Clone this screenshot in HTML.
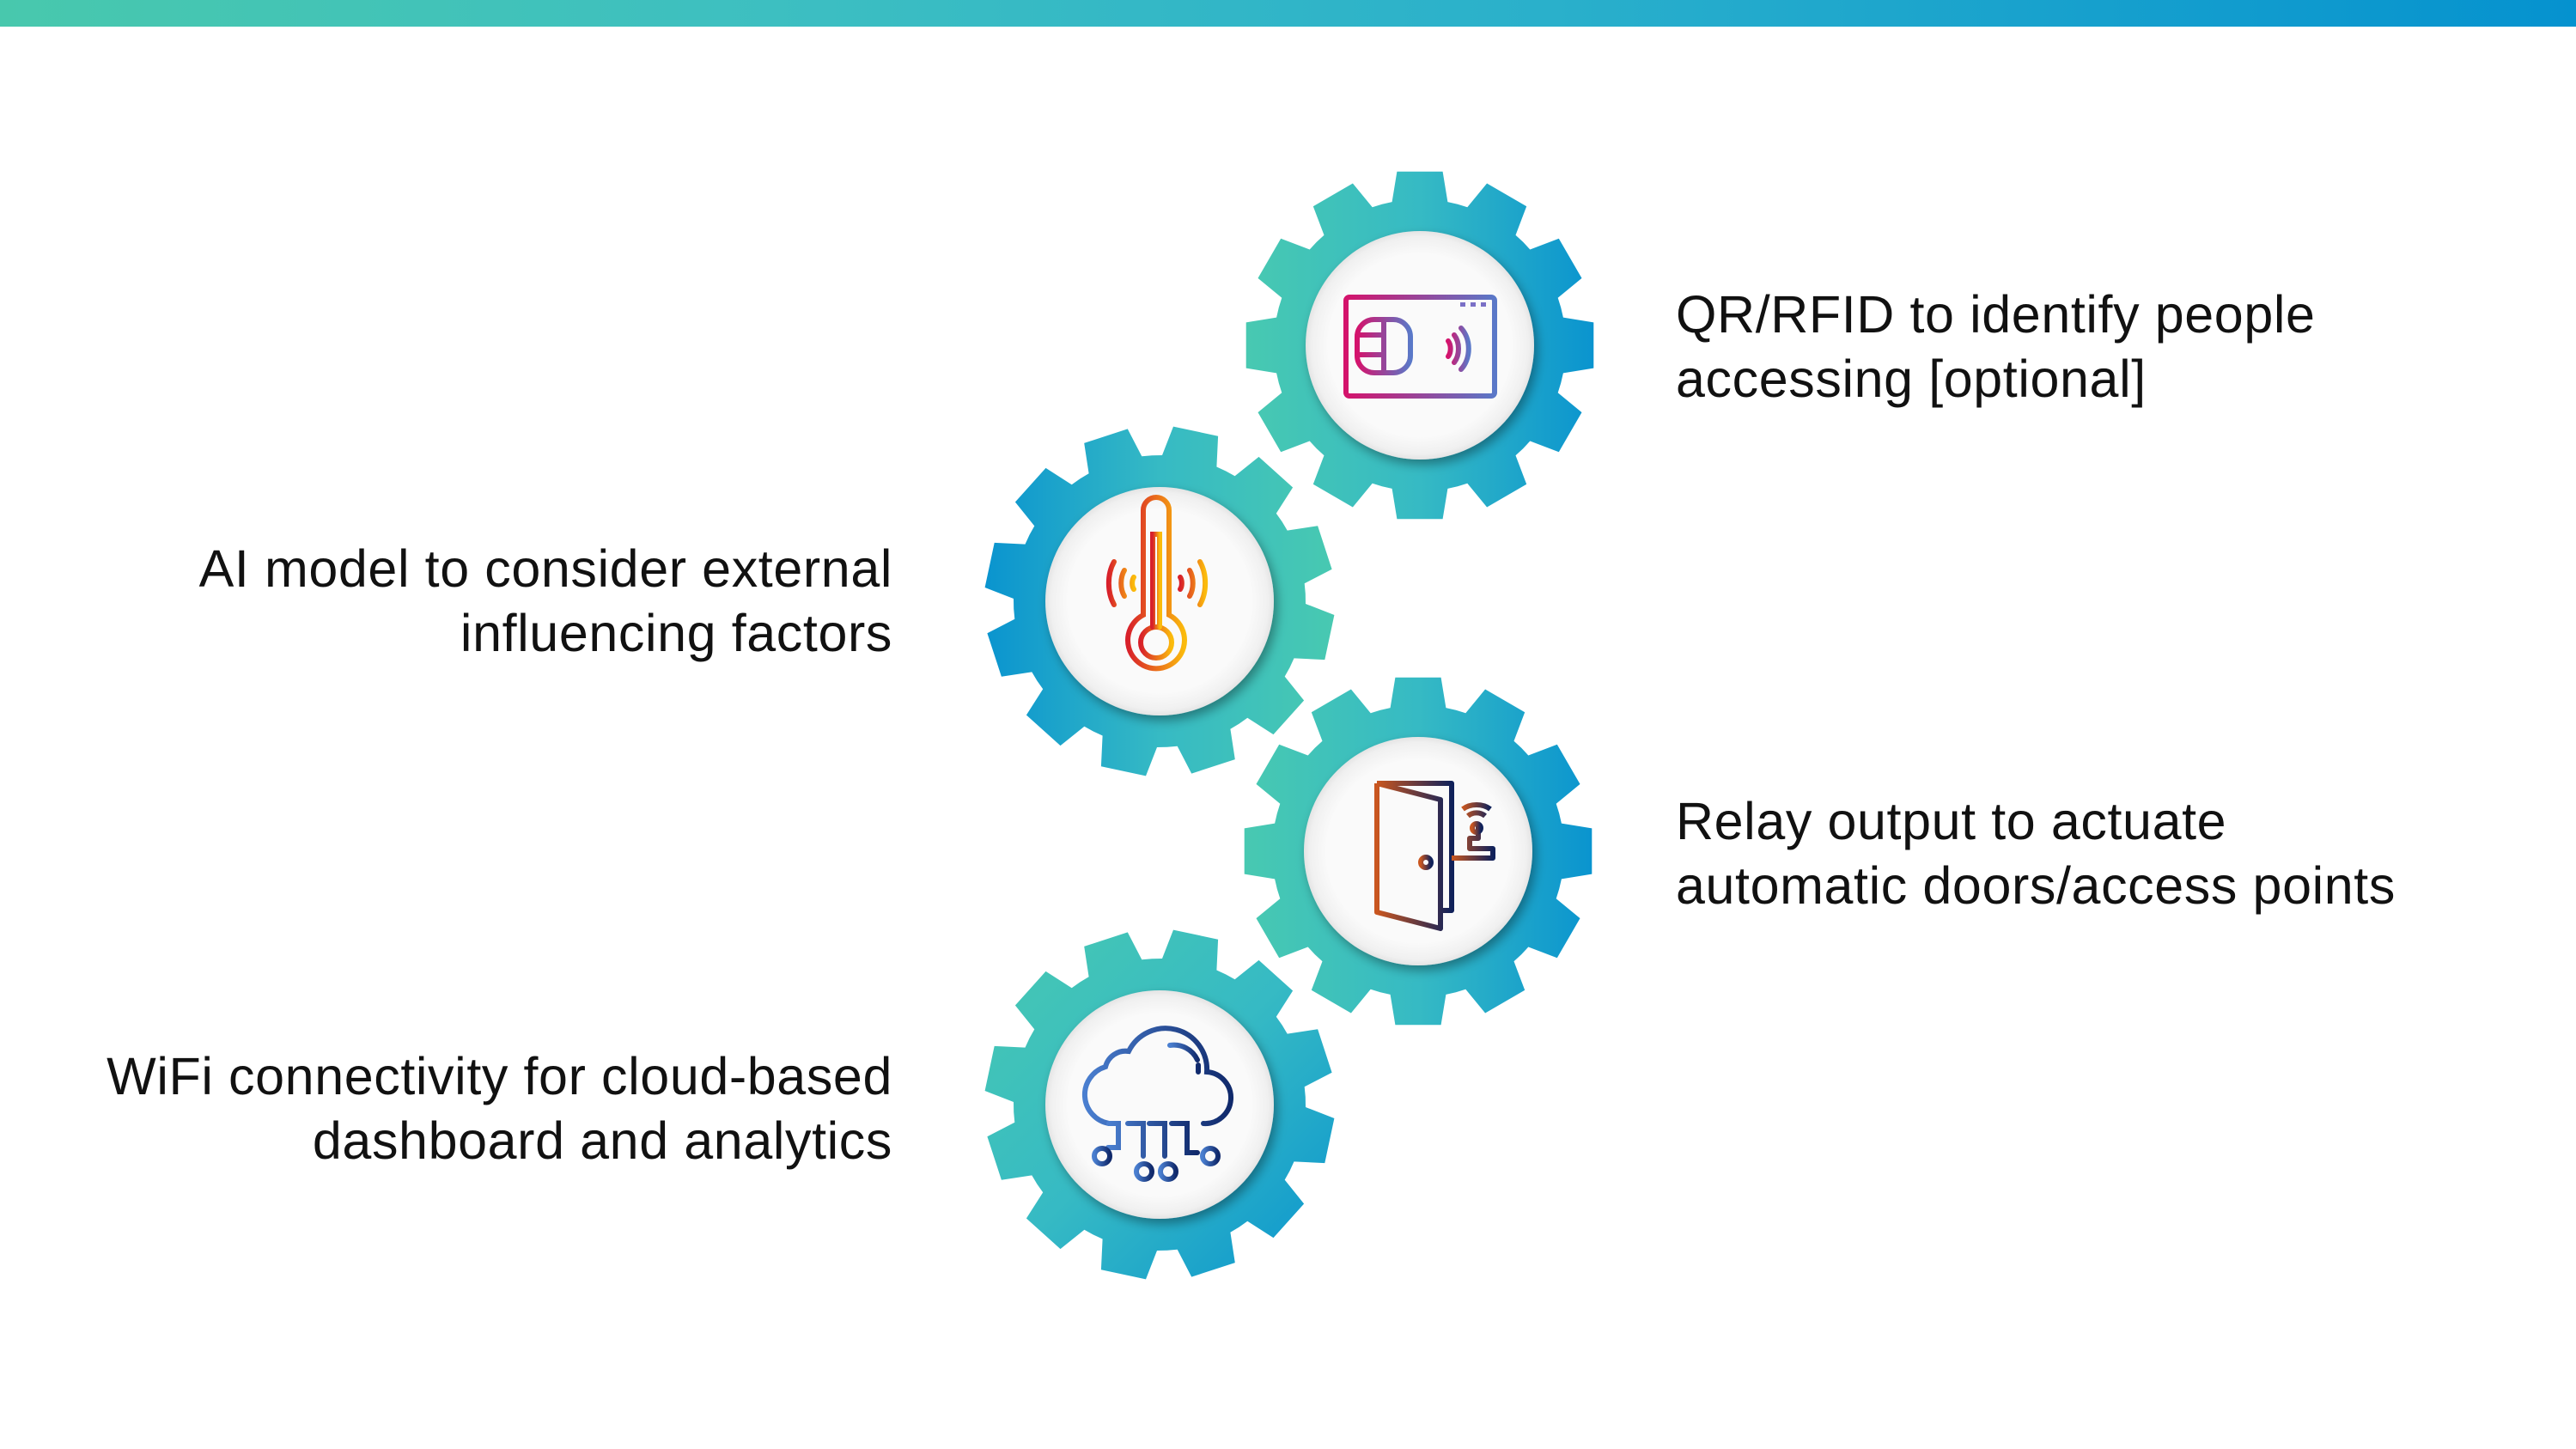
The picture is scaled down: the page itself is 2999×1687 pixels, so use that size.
<!DOCTYPE html>
<html><head><meta charset="utf-8"><style>
html,body{margin:0;padding:0;background:#fff}
body{width:2999px;height:1687px;position:relative;overflow:hidden;font-family:"Liberation Sans",sans-serif;color:#111}
.bar{position:absolute;left:0;top:0;width:2999px;height:31px;background:linear-gradient(90deg,#48c8ad,#3dbfc1 30%,#2ab0cb 60%,#0592cf)}
.t{position:absolute;font-size:61px;letter-spacing:0.6px;line-height:75px;white-space:nowrap}
.r{text-align:right}
svg{position:absolute;left:0;top:0}
</style></head><body>
<div class="bar"></div>
<svg id="s" width="2999" height="1687" viewBox="0 0 2999 1687">
<defs>
<linearGradient id="gh" x1="0" y1="0" x2="1" y2="0"><stop offset="0" stop-color="#48c9b1"/><stop offset="0.5" stop-color="#36bac4"/><stop offset="1" stop-color="#0a94cf"/></linearGradient>
<linearGradient id="ghr" x1="1" y1="0" x2="0" y2="0"><stop offset="0" stop-color="#48c9b1"/><stop offset="0.5" stop-color="#36bac4"/><stop offset="1" stop-color="#0a94cf"/></linearGradient>
<linearGradient id="gd" x1="0" y1="0" x2="1" y2="1"><stop offset="0" stop-color="#48c9b1"/><stop offset="0.5" stop-color="#36bac4"/><stop offset="1" stop-color="#0a94cf"/></linearGradient>
<radialGradient id="wc" cx="0.5" cy="0.5" r="0.5"><stop offset="0.8" stop-color="#fafafa"/><stop offset="0.95" stop-color="#f0f0f0"/><stop offset="1" stop-color="#e4e4e4"/></radialGradient>
<filter id="sh" x="-20%" y="-20%" width="140%" height="140%"><feDropShadow dx="4" dy="6" stdDeviation="6" flood-color="#000" flood-opacity="0.35"/></filter>
<linearGradient id="ic1" x1="0" y1="0" x2="1" y2="0"><stop offset="0" stop-color="#d4136c"/><stop offset="1" stop-color="#5a78c8"/></linearGradient>
<linearGradient id="ic2" x1="0" y1="0" x2="1" y2="0"><stop offset="0" stop-color="#d8202a"/><stop offset="1" stop-color="#fbbb0c"/></linearGradient>
<linearGradient id="ic3" x1="0" y1="0" x2="1" y2="0"><stop offset="0" stop-color="#c9561f"/><stop offset="1" stop-color="#10215a"/></linearGradient>
<linearGradient id="ic4" x1="0" y1="0" x2="1" y2="0"><stop offset="0" stop-color="#4a7fd0"/><stop offset="1" stop-color="#10296b"/></linearGradient>
</defs>
<g id="gears"></g>
<g fill="none" stroke="url(#ic1)" stroke-width="6" stroke-linecap="round">
<rect x="1567" y="346" width="173" height="115" rx="4"/>
<path d="M1600 372 h22 a20 20 0 0 1 20 20 v22 a20 20 0 0 1 -20 20 h-22 a20 20 0 0 1 -20 -20 v-22 a20 20 0 0 1 20 -20z M1611 372 v62 M1580 390 h31 M1580 413 h31"/>
<path d="M1686 397 a8 12 0 0 1 0 18 M1693 390 a16 22 0 0 1 0 32 M1701 382 a26 32 0 0 1 0 48"/>
</g>
<g fill="#7a70c6"><rect x="1700" y="352" width="6" height="5"/><rect x="1712" y="352" width="6" height="5"/><rect x="1724" y="352" width="6" height="5"/></g>
<g fill="none" stroke="url(#ic2)" stroke-width="6" stroke-linecap="round">
<path d="M1331 716 v-122 a15 15 0 0 1 30 0 v122 a33 33 0 1 1 -30 0z"/>
<circle cx="1346" cy="748" r="18"/>
<path d="M1342 730 v-108 h8 v108"/>
<path d="M1297 654 a28 40 0 0 0 0 50 M1309 664 a14 22 0 0 0 0 30 M1320 672 a5 9 0 0 0 0 14"/>
<path d="M1374 672 a5 9 0 0 1 0 14 M1385 664 a14 22 0 0 1 0 30 M1397 654 a28 40 0 0 1 0 50"/>
</g>
<g fill="none" stroke="url(#ic3)" stroke-width="6" stroke-linejoin="round">
<path d="M1603 912 h87 v148 h-13 M1603 912 v150 l74 19 v-150 l-74 -19"/>
<circle cx="1660" cy="1004" r="6"/>
<path d="M1690 999 h48 v-11 h-27 v-12 h10 v-18"/>
<circle cx="1719" cy="964" r="5"/>
<path d="M1709 950 a14 12 0 0 1 20 0 M1703 942 a22 16 0 0 1 32 0"/>
</g>
<g fill="none" stroke="url(#ic4)" stroke-width="6" stroke-linecap="round">
<path d="M1291 1308 a34 34 0 0 1 -4 -66 a24 24 0 0 1 27 -18 a48 48 0 0 1 91 24 a30 30 0 0 1 -4 60"/>
<path d="M1362 1217 a30 30 0 0 1 32 17 M1395 1240 v8"/>
<path d="M1291 1308 h11 v28 h-12 M1313 1308 h18 v38 M1338 1308 h18 v38 M1364 1308 h18 v34 h12"/>
<circle cx="1283" cy="1346" r="9"/><circle cx="1332" cy="1364" r="9"/><circle cx="1360" cy="1364" r="9"/><circle cx="1409" cy="1346" r="9"/>
</g>
</svg>
<div class="t" style="left:1951px;top:329px">QR/RFID to identify people<br>accessing [optional]</div>
<div class="t r" style="right:1960px;top:625px">AI model to consider external<br>influencing factors</div>
<div class="t" style="left:1951px;top:919px">Relay output to actuate<br>automatic doors/access points</div>
<div class="t r" style="right:1960px;top:1216px">WiFi connectivity for cloud-based<br>dashboard and analytics</div>
<script>
(function(){
var g=document.getElementById('gears');var ns='http://www.w3.org/2000/svg';
function gear(cx,cy,rot,fill){
 var R=204,r=170,n=12,d='';
 var tipHalf=7.5*Math.PI/180, baseHalf=11*Math.PI/180;
 for(var i=0;i<n;i++){
  var a=(i*30+rot)*Math.PI/180-Math.PI/2;
  var pts=[[r,a-15*Math.PI/180],[r,a-baseHalf],[R,a-tipHalf],[R,a+tipHalf],[r,a+baseHalf]];
  pts.forEach(function(p,j){var x=cx+p[0]*Math.cos(p[1]),y=cy+p[0]*Math.sin(p[1]);d+=(i==0&&j==0?'M':'L')+x.toFixed(1)+' '+y.toFixed(1)+' ';});
 }
 d+='Z';
 var p=document.createElementNS(ns,'path');p.setAttribute('d',d);p.setAttribute('fill',fill);g.appendChild(p);
 var c=document.createElementNS(ns,'circle');c.setAttribute('cx',cx);c.setAttribute('cy',cy);c.setAttribute('r',133);c.setAttribute('fill','url(#wc)');c.setAttribute('filter','url(#sh)');g.appendChild(c);
}
gear(1653,402,0,'url(#gh)');
gear(1350,700,12,'url(#ghr)');
gear(1651,991,0,'url(#gh)');
gear(1350,1286,12,'url(#gd)');
})();
</script>
</body></html>
